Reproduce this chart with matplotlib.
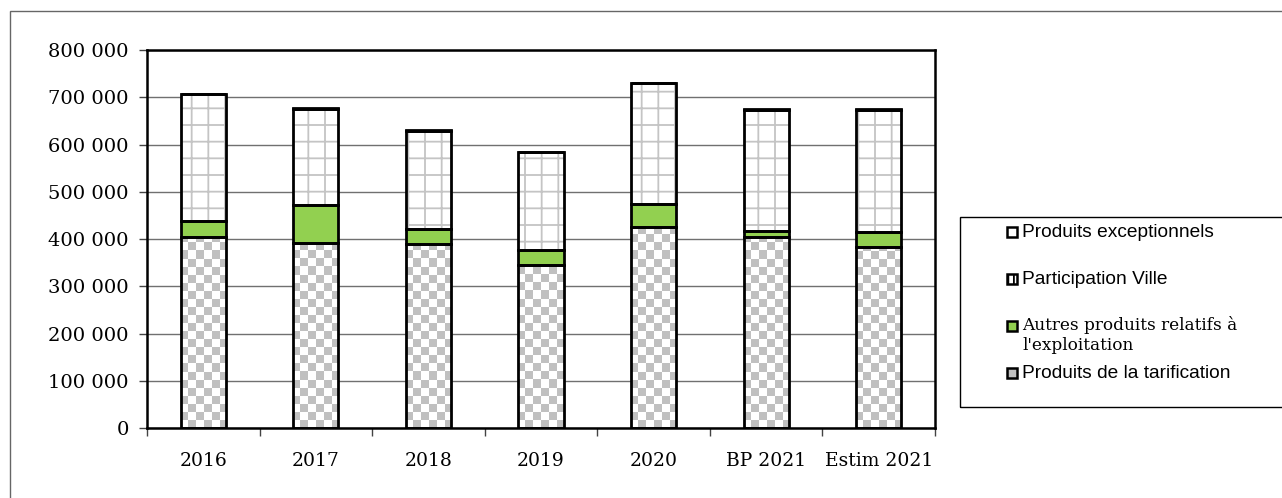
from matplotlib import pyplot as plt
from matplotlib.patches import Rectangle
from matplotlib.ticker import FuncFormatter, FixedLocator
import numpy as np

categories    = ['2016', '2017', '2018', '2019', '2020', 'BP 2021', 'Estim 2021']
tarification  = [405000, 392000, 390000, 345000, 426000, 405000, 384000]
autres        = [33000, 80000, 32000, 31000, 48000, 13000, 32000]
participation = [268500, 203500, 207500, 207500, 255500, 255500, 257500]
exceptionnels = [1500, 1500, 1500, 1500, 1500, 1500, 1500]

legend_labels = ['Produits exceptionnels', 'Participation Ville',
                 "Autres produits relatifs à\nl'exploitation", 'Produits de la tarification']

GREEN = '#92d050'
LGRAY = '#c0c0c0'

#--------------------------------------------------------------------------------------------------
def checker(ax, x, w, h):
    # checkerboard texture clipped to one bar
    ny, nx = 47, 98
    img = (np.indices((ny, nx)).sum(axis=0) % 2).astype(float)
    im = ax.imshow(img, cmap=plt.matplotlib.colors.ListedColormap(['white', LGRAY]),
                   extent=(-0.5, 6.5, 0, 800000), aspect='auto', interpolation='nearest',
                   origin='lower', zorder=2.5)
    clip = Rectangle((x - w/2, 0), w, h, transform=ax.transData)
    im.set_clip_path(clip)
#--------------------------------------------------------------------------------------------------

#--------------------------------------------------------------------------------------------------
def plot_produits(output_fname='out.png'):
    plt.rcParams['hatch.linewidth'] = 1.3
    fig = plt.figure(figsize=(12.82, 4.98), dpi=100)
    ax = fig.add_axes([147/1282, 1-428.3/498, (935-147)/1282, (428.3-50)/498])

    x = np.arange(len(categories))
    w = 0.4
    tar = np.array(tarification)
    aut = np.array(autres)
    par = np.array(participation)
    exc = np.array(exceptionnels)

    # fills
    ax.bar(x, tar, w, color='white', linewidth=0, zorder=2)
    for i in range(len(x)):
        checker(ax, x[i], w, tar[i])
    ax.bar(x, aut, w, bottom=tar, color=GREEN, linewidth=0, zorder=2)
    ax.bar(x, par, w, bottom=tar+aut, color='white', edgecolor='#c4c4c4', hatch='+',
           linewidth=0, zorder=2)
    ax.bar(x, exc, w, bottom=tar+aut+par, color='white', linewidth=0, zorder=2)

    # outlines
    bottom = np.zeros(len(x))
    for vals in [tar, aut, par, exc]:
        ax.bar(x, vals, w, bottom=bottom, fill=False, edgecolor='black', linewidth=2, zorder=3)
        bottom = bottom + vals

    ax.set_xlim(-0.5, 6.5)
    ax.set_ylim(0, 800000)
    ax.set_yticks(np.arange(0, 800001, 100000))
    ax.yaxis.set_major_formatter(FuncFormatter(lambda v, p: f"{int(v):,}".replace(',', ' ')))
    ax.set_xticks(x)
    ax.set_xticklabels(categories)
    ax.xaxis.set_minor_locator(FixedLocator(np.arange(-0.5, 7, 1)))
    ax.tick_params(axis='x', which='major', length=0, pad=17)
    ax.tick_params(axis='x', which='minor', length=6, width=1, color='#444444')
    ax.tick_params(axis='y', length=6, width=1, pad=7, color='#444444')
    for lab in ax.get_xticklabels():
        lab.set_fontfamily('DejaVu Serif')
        lab.set_fontsize(13.5)
    for lab in ax.get_yticklabels():
        lab.set_fontfamily('DejaVu Serif')
        lab.set_fontsize(14)

    ax.set_axisbelow(True)
    ax.yaxis.grid(True, color='#707070', linewidth=1)
    for sp in ax.spines.values():
        sp.set_linewidth(1.8)
        sp.set_color('black')

    # outer border of the chart area
    fig.patches.append(Rectangle((10/1282, -0.05), 1.0, 1.05-11/498, transform=fig.transFigure,
                                 fill=False, edgecolor='#666666', linewidth=1))

    # legend box, drawn by hand to keep Excel layout
    fig.patches.append(Rectangle((960/1282, 1-407/498), 0.5, 190/498, transform=fig.transFigure,
                                 fill=False, edgecolor='black', linewidth=1))
    rows_y = [232, 279, 326, 373]
    fills = ['white', 'white', GREEN, LGRAY]
    hatches = [None, '|||', None, None]
    fams = ['Liberation Sans', 'Liberation Sans', 'DejaVu Serif', 'Liberation Sans']
    sizes = [13.8, 13.8, 12.2, 13.8]
    for i in range(4):
        yc = 1 - rows_y[i]/498
        fig.text(1022/1282, yc, legend_labels[i], ha='left', va='center' if i != 2 else 'top',
                 fontfamily=fams[i], fontsize=sizes[i], linespacing=1.2)
        fig.patches.append(Rectangle((1007/1282, yc - 5/498), 10/1282, 10/498,
                                     transform=fig.transFigure, facecolor=fills[i],
                                     edgecolor='black', linewidth=1.8, hatch=hatches[i]))
    # lift the two-line label so its first line sits on the marker
    fig.texts[2].set_y(1 - (rows_y[2] - 10)/498)

    plt.savefig(output_fname, dpi=100)
#--------------------------------------------------------------------------------------------------

#--------------------------------------------------------------------------------------------------
def main():
    plot_produits()
#--------------------------------------------------------------------------------------------------

if __name__=='__main__':
    main()
